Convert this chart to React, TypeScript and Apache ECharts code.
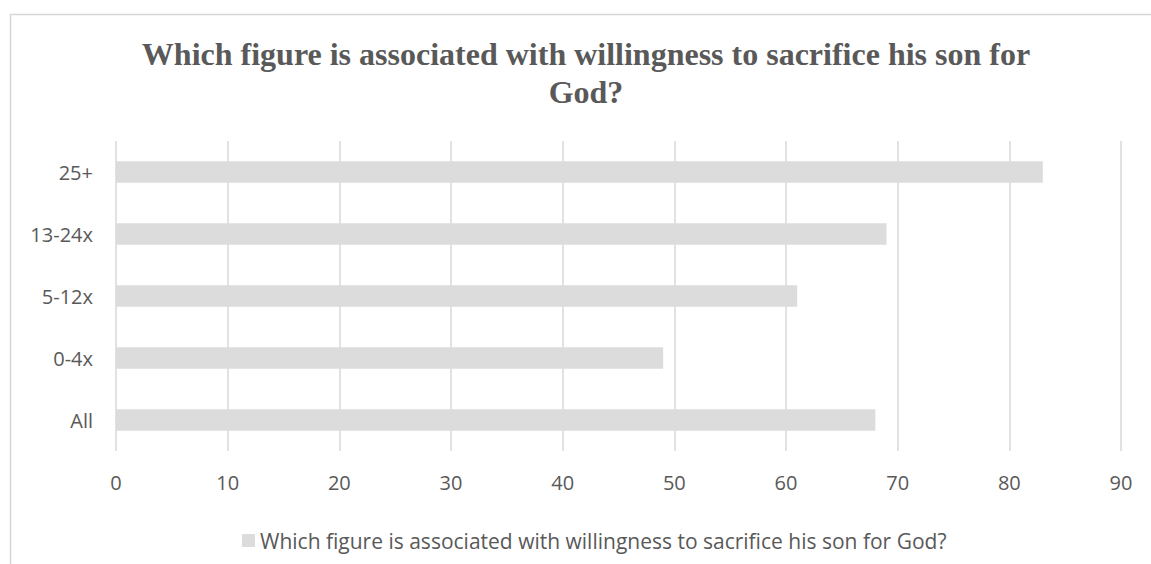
import React, { useEffect, useRef } from "react";
import * as echarts from "echarts";

const titleText = "Which figure is associated with willingness to sacrifice his son for\nGod?";
const seriesName = "Which figure is associated with willingness to sacrifice his son for God?";
const categories = ["All", "0-4x", "5-12x", "13-24x", "25+"];
const values = [68, 49, 61, 69, 83];
const axisMin = 0;
const axisMax = 90;
const axisInterval = 10;

const TEXT = "#595959";
const GRID = "#d9d9d9";
const BAR = "#dcdcdc";
const SANS = "'Open Sans', 'Noto Sans', sans-serif";

export default function App() {
  const ref = useRef<HTMLDivElement>(null);
  useEffect(() => {
    if (!ref.current) return;
    const chart = echarts.init(ref.current, undefined, { renderer: "svg" });
    chart.setOption({
      animation: false,
      backgroundColor: "#ffffff",
      title: {
        text: titleText,
        left: 581,
        top: 30,
        textAlign: "center",
        textStyle: {
          fontFamily: "'Liberation Serif', 'Times New Roman', serif",
          fontWeight: "bold",
          fontSize: 32,
          color: TEXT,
          lineHeight: 38,
        },
      },
      graphic: [
        {
          type: "rect",
          shape: { x: 10.5, y: 14.5, width: 1300, height: 700 },
          style: { fill: "none", stroke: "#d6d6d6", lineWidth: 1.5 },
          silent: true,
          z: -1,
        },
      ],
      legend: {
        data: [seriesName],
        left: 237,
        top: 525,
        icon: "rect",
        itemWidth: 13,
        itemHeight: 13,
        itemGap: 10,
        textStyle: { fontFamily: SANS, fontSize: 21, color: TEXT },
      },
      grid: { left: 116, right: 30, top: 141, bottom: 113, containLabel: false },
      xAxis: {
        type: "value",
        min: axisMin,
        max: axisMax,
        interval: axisInterval,
        axisLine: { show: false },
        axisTick: { show: false },
        splitLine: { show: true, lineStyle: { color: GRID, width: 1.5 } },
        axisLabel: { fontFamily: SANS, fontSize: 20, color: TEXT, margin: 21 },
      },
      yAxis: {
        type: "category",
        data: categories,
        axisLine: { show: false },
        axisTick: { show: false },
        splitLine: { show: false },
        axisLabel: { fontFamily: SANS, fontSize: 20, color: TEXT, margin: 23 },
      },
      series: [
        {
          name: seriesName,
          type: "bar",
          data: values,
          barWidth: "35%",
          itemStyle: { color: BAR },
        },
      ],
    });
    return () => chart.dispose();
  }, []);
  return (
    <div
      ref={ref}
      style={{ position: "fixed", left: 0, top: 0, width: 1151, height: 564 }}
    />
  );
}
